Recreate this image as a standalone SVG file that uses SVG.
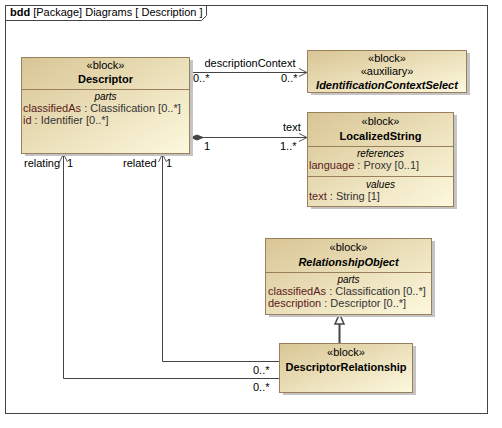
<svg xmlns="http://www.w3.org/2000/svg" width="502" height="428" viewBox="0 0 502 428">
<defs>
<linearGradient id="g" x1="0" y1="0" x2="1" y2="1">
<stop offset="0" stop-color="#d8c594"/>
<stop offset="1" stop-color="#fdf9de"/>
</linearGradient>
<marker id="open" markerWidth="10" markerHeight="10" refX="9" refY="5" orient="auto" markerUnits="userSpaceOnUse">
<path d="M1,1 L9,5 L1,9" fill="none" stroke="#555" stroke-width="1"/>
</marker>
<marker id="diamond" markerWidth="16" markerHeight="8" refX="1" refY="4" orient="auto" markerUnits="userSpaceOnUse">
<path d="M1,4 L7,1.5 L13,4 L7,6.5 Z" fill="#444" stroke="#444"/>
</marker>
<marker id="tri" markerWidth="14" markerHeight="14" refX="12" refY="7" orient="auto" markerUnits="userSpaceOnUse">
<path d="M12,7 L2,2.5 L2,11.5 Z" fill="#fff" stroke="#444" stroke-width="1.5"/>
</marker>
</defs>
<style>
text{font-family:"Liberation Sans",Arial,sans-serif;font-size:11px;fill:#000}
.c{text-anchor:middle}
.b{font-weight:bold}
.bi{font-weight:bold;font-style:italic}
.i{font-style:italic;font-size:10px}
.n{fill:#5a1a1a}
.t{fill:#333}
.box{fill:url(#g);stroke:#9a7f5c;stroke-width:1}
.sh{fill:#c4c4c4}
.div{stroke:#9a7f5c;stroke-width:1}
.ln{fill:none;stroke:#444;stroke-width:1}
</style>
<rect x="0" y="0" width="502" height="428" fill="#fff"/>
<g id="frame">
<rect x="5.5" y="5.5" width="482" height="408" fill="none" stroke="#444" stroke-width="1"/>
<path d="M5.5,20.5 H201.5 L206.5,15.5 V5.5" fill="none" stroke="#444" stroke-width="1"/>
<text x="10" y="16"><tspan class="b">bdd</tspan> [Package] Diagrams [ Description ]</text>
</g>
<g id="connectors">
<path class="ln" d="M190,72.5 H307" marker-end="url(#open)"/>
<text x="250" y="67" class="c">descriptionContext</text>
<text x="193" y="82">0..*</text>
<text x="281" y="82">0..*</text>
<path class="ln" d="M191,137.5 H307" marker-start="url(#diamond)" marker-end="url(#open)"/>
<text x="283" y="131">text</text>
<text x="204" y="150">1</text>
<text x="280" y="150">1..*</text>
<path class="ln" d="M280,361.5 H162.5 V154" marker-end="url(#open)"/>
<path class="ln" d="M280,378.5 H63.5 V154" marker-end="url(#open)"/>
<text x="24" y="167">relating</text>
<text x="67" y="167">1</text>
<text x="123" y="167">related</text>
<text x="166" y="167">1</text>
<text x="253" y="374">0..*</text>
<text x="253" y="391">0..*</text>
<path d="M339.5,343 V314" fill="none" stroke="#444" stroke-width="2" marker-end="url(#tri)"/>
</g>
<g id="Descriptor">
<rect class="sh" x="25" y="60" width="168" height="96"/>
<rect class="box" x="21.5" y="57.5" width="168" height="96"/>
<line class="div" x1="21.5" y1="89.5" x2="189.5" y2="89.5"/>
<text x="105.5" y="69" class="c">«block»</text>
<text x="105.5" y="83" class="c b">Descriptor</text>
<text x="105.5" y="100" class="c i">parts</text>
<text x="23" y="112"><tspan class="n">classifiedAs</tspan><tspan class="t"> : Classification [0..*]</tspan></text>
<text x="23" y="124"><tspan class="n">id</tspan><tspan class="t"> : Identifier [0..*]</tspan></text>
</g>
<g id="IdentificationContextSelect">
<rect class="sh" x="311" y="53" width="159" height="42"/>
<rect class="box" x="307.5" y="50.5" width="159" height="42"/>
<text x="387" y="62" class="c">«block»</text>
<text x="387" y="75" class="c">«auxiliary»</text>
<text x="387" y="89" class="c bi">IdentificationContextSelect</text>
</g>
<g id="LocalizedString">
<rect class="sh" x="311" y="115" width="146" height="94"/>
<rect class="box" x="307.5" y="112.5" width="146" height="94"/>
<line class="div" x1="307.5" y1="146.5" x2="453.5" y2="146.5"/>
<line class="div" x1="307.5" y1="176.5" x2="453.5" y2="176.5"/>
<text x="380.5" y="125" class="c">«block»</text>
<text x="380.5" y="140" class="c b">LocalizedString</text>
<text x="380.5" y="157" class="c i">references</text>
<text x="309" y="169"><tspan class="n">language</tspan><tspan class="t"> : Proxy [0..1]</tspan></text>
<text x="380.5" y="188" class="c i">values</text>
<text x="309" y="200"><tspan class="n">text</tspan><tspan class="t"> : String [1]</tspan></text>
</g>
<g id="RelationshipObject">
<rect class="sh" x="269" y="241" width="166" height="76"/>
<rect class="box" x="265.5" y="238.5" width="166" height="76"/>
<line class="div" x1="265.5" y1="272.5" x2="431.5" y2="272.5"/>
<text x="348.5" y="251" class="c">«block»</text>
<text x="348.5" y="266" class="c bi">RelationshipObject</text>
<text x="348.5" y="283" class="c i">parts</text>
<text x="268" y="295"><tspan class="n">classifiedAs</tspan><tspan class="t"> : Classification [0..*]</tspan></text>
<text x="268" y="307"><tspan class="n">description</tspan><tspan class="t"> : Descriptor [0..*]</tspan></text>
</g>
<g id="DescriptorRelationship">
<rect class="sh" x="283" y="346" width="133" height="49"/>
<rect class="box" x="279.5" y="343.5" width="133" height="49"/>
<text x="346" y="356" class="c">«block»</text>
<text x="346" y="371" class="c b">DescriptorRelationship</text>
</g>
</svg>
